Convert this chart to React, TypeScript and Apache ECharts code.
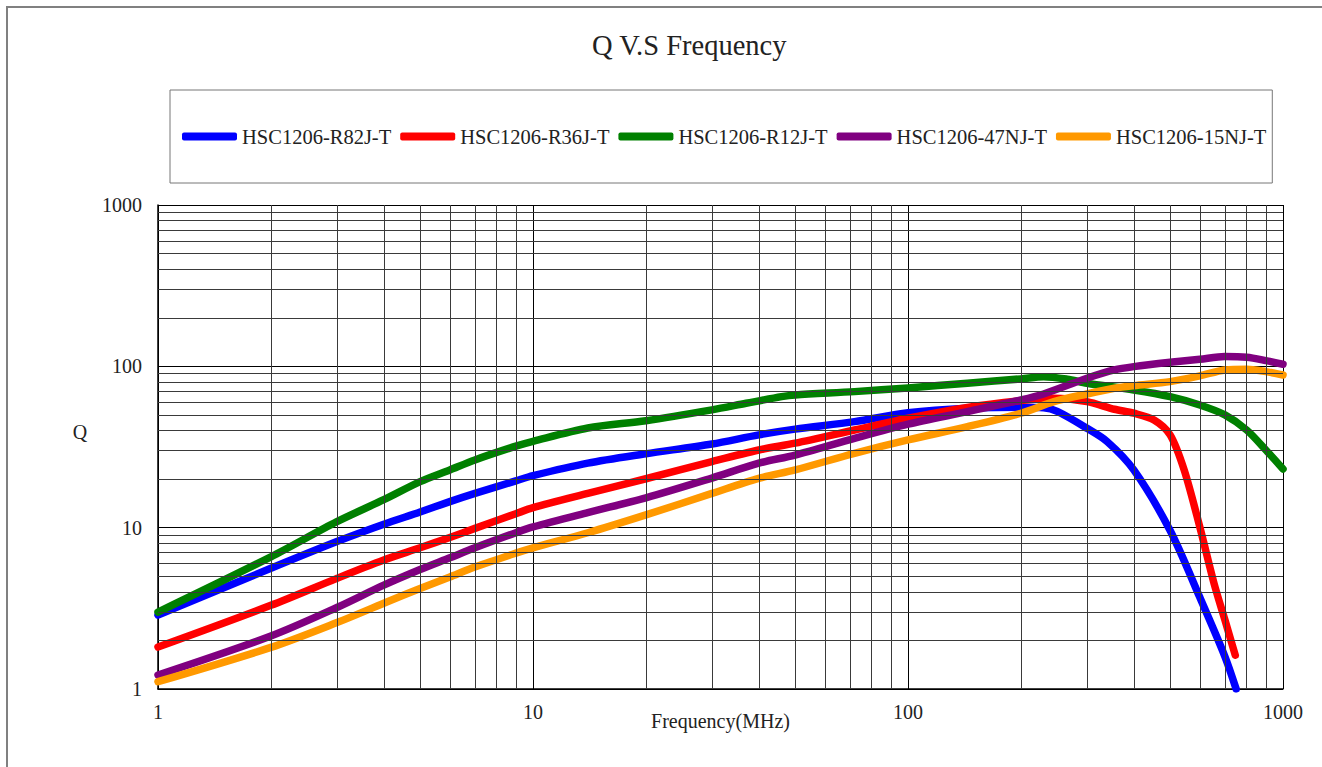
import React, { useEffect, useRef } from "react";
import * as echarts from "echarts";

// ---- data ----
const seriesNames = ["HSC1206-R82J-T", "HSC1206-R36J-T", "HSC1206-R12J-T", "HSC1206-47NJ-T", "HSC1206-15NJ-T"];
const seriesColors = ["#0000FF", "#FF0000", "#008000", "#800080", "#FF9900"];

const freqR82J = [1, 2, 3, 4, 5, 6, 7, 9, 10, 14, 20, 30, 40, 50, 72, 100, 144, 200, 230, 250, 300, 340, 400, 500, 600, 700, 750];
const qR82J = [2.87, 5.6, 8.2, 10.5, 12.5, 14.5, 16.3, 19.5, 21.0, 25.1, 28.7, 33.0, 37.6, 40.8, 45.4, 51.5, 55.0, 55.7, 55.3, 52.5, 41.3, 34.1, 22.8, 9.6, 3.7, 1.59, 1.0];

const freqR36J = [1, 2, 3, 4, 5, 6, 7, 9, 10, 14, 20, 30, 40, 50, 72, 100, 144, 200, 245, 300, 355, 400, 453, 500, 545, 600, 655, 700, 746];
const qR36J = [1.82, 3.3, 4.85, 6.3, 7.5, 8.7, 9.9, 12.2, 13.3, 16.3, 20.1, 25.7, 30.3, 33.4, 40.3, 47.7, 55.7, 61.3, 63.4, 60.4, 54.2, 51.2, 46.5, 37.6, 22.8, 10.1, 4.5, 2.68, 1.62];

const freqR12J = [1, 2, 3, 4, 5, 6, 7, 9, 10, 14, 20, 30, 37, 46, 50, 72, 100, 144, 200, 230, 266, 300, 400, 500, 600, 700, 800, 900, 1000];
const qR12J = [3.0, 6.6, 10.9, 14.9, 19.3, 22.8, 26.3, 32.0, 34.3, 41.5, 46.0, 53.7, 59.0, 64.9, 66.5, 69.7, 73.5, 78.6, 83.6, 86.3, 83.2, 78.6, 71.4, 64.9, 57.6, 50.0, 40.3, 30.3, 23.1];

const freq47NJ = [1, 2, 3, 4, 5, 6, 7, 9, 10, 14, 20, 30, 40, 50, 72, 100, 144, 200, 230, 300, 355, 400, 500, 600, 700, 800, 900, 1000];
const q47NJ = [1.22, 2.13, 3.2, 4.4, 5.5, 6.5, 7.5, 9.3, 10.1, 12.4, 15.3, 20.3, 25.1, 28.2, 35.8, 43.8, 52.4, 61.9, 67.4, 84.4, 95.0, 99.6, 106, 110.7, 115, 113.8, 108.5, 103];

const freq15NJ = [1, 2, 3, 4, 5, 6, 7, 9, 10, 14, 20, 30, 40, 50, 72, 100, 144, 200, 245, 300, 355, 400, 500, 600, 700, 800, 900, 1000];
const q15NJ = [1.11, 1.81, 2.58, 3.4, 4.2, 4.95, 5.7, 6.95, 7.5, 9.3, 12.0, 16.3, 20.2, 22.8, 28.9, 35.0, 42.3, 51.2, 60.4, 67.4, 73.1, 75.9, 80.4, 87.2, 95.0, 96.0, 92.7, 88.4];

const xMinorGrid = [2, 3, 4, 5, 6, 7, 8, 9, 20, 30, 40, 50, 60, 70, 80, 90, 200, 300, 400, 500, 600, 700, 800, 900];
const yMinorGrid = [2, 3, 4, 5, 6, 7, 8, 9, 20, 30, 40, 50, 60, 70, 80, 90, 200, 300, 400, 500, 600, 700, 800, 900];

const freqs = [freqR82J, freqR36J, freqR12J, freq47NJ, freq15NJ];
const qs = [qR82J, qR36J, qR12J, q47NJ, q15NJ];

const FONT = "'Liberation Serif', 'Times New Roman', serif";

export default function App() {
  const ref = useRef<HTMLDivElement>(null);

  useEffect(() => {
    if (!ref.current) return;
    const chart = echarts.init(ref.current, undefined, { renderer: "svg" });

    const dataSeries = seriesNames.map((name, i) => ({
      name,
      type: "line",
      smooth: 0.3,
      showSymbol: false,
      symbol: "none",
      z: 3,
      color: seriesColors[i],
      lineStyle: { width: 7.5, color: seriesColors[i], cap: "round", join: "round" },
      data: freqs[i].map((f, k) => [f, qs[i][k]]),
    }));

    const gridSeries = {
      name: "grid",
      type: "line",
      z: 1,
      silent: true,
      showSymbol: false,
      symbol: "none",
      lineStyle: { opacity: 0 },
      data: [[1, 1]],
      markLine: {
        silent: true,
        symbol: ["none", "none"],
        label: { show: false },
        animation: false,
        lineStyle: { color: "#3a3a3a", width: 1, type: "solid" },
        emphasis: { disabled: true },
        data: [
          ...xMinorGrid.map((v) => ({ xAxis: v })),
          ...yMinorGrid.map((v) => ({ yAxis: v })),
        ],
      },
    };

    const plain = (v: number) => String(Math.round(v));

    chart.setOption({
      animation: false,
      backgroundColor: "#ffffff",
      title: {
        text: "Q V.S Frequency",
        left: 592,
        top: 31,
        padding: 0,
        textStyle: { fontFamily: FONT, fontSize: 28.5, fontWeight: "normal", color: "#222" },
      },
      legend: {
        data: seriesNames,
        left: 170,
        top: 90,
        orient: "horizontal",
        icon: "roundRect",
        itemWidth: 55,
        itemHeight: 8,
        itemGap: 9,
        padding: [36, 6, 36, 12],
        borderColor: "#777",
        borderWidth: 1,
        selectedMode: false,
        textStyle: { fontFamily: FONT, fontSize: 20.5, color: "#222", lineHeight: 20 },
      },
      grid: { left: 158, right: 39, top: 205, bottom: 78, containLabel: false },
      xAxis: {
        type: "log",
        logBase: 10,
        min: 1,
        max: 1000,
        name: "Frequency(MHz)",
        nameLocation: "middle",
        nameGap: 22,
        nameMoveOverlap: false,
        nameTextStyle: { fontFamily: FONT, fontSize: 20, color: "#222" },
        axisLine: { show: true, lineStyle: { color: "#000", width: 1.5 } },
        axisTick: { show: false },
        axisLabel: { fontFamily: FONT, fontSize: 20, color: "#222", margin: 13, formatter: plain },
        splitLine: { show: true, lineStyle: { color: "#000", width: 1 } },
        minorTick: { show: false },
        minorSplitLine: { show: false },
      },
      yAxis: {
        type: "log",
        logBase: 10,
        min: 1,
        max: 1000,
        axisLine: { show: true, lineStyle: { color: "#000", width: 1.5 } },
        axisTick: { show: false },
        axisLabel: { fontFamily: FONT, fontSize: 20, color: "#222", margin: 16, formatter: plain },
        splitLine: { show: true, lineStyle: { color: "#000", width: 1 } },
        minorTick: { show: false },
        minorSplitLine: { show: false },
      },
      graphic: [
        {
          type: "polyline",
          silent: true,
          shape: { points: [[7, 767], [7, 7], [1322, 7]] },
          style: { stroke: "#808080", lineWidth: 2, fill: "none" },
        },
        {
          type: "text",
          x: 80,
          y: 432,
          style: {
            text: "Q",
            font: `20px ${FONT}`,
            fill: "#222",
            align: "center",
            verticalAlign: "middle",
          },
        },
      ],
      series: [gridSeries, ...dataSeries],
    });

    return () => chart.dispose();
  }, []);

  return (
    <div
      ref={ref}
      style={{ position: "fixed", left: 0, top: 0, width: 1322, height: 767, background: "#fff" }}
    />
  );
}
